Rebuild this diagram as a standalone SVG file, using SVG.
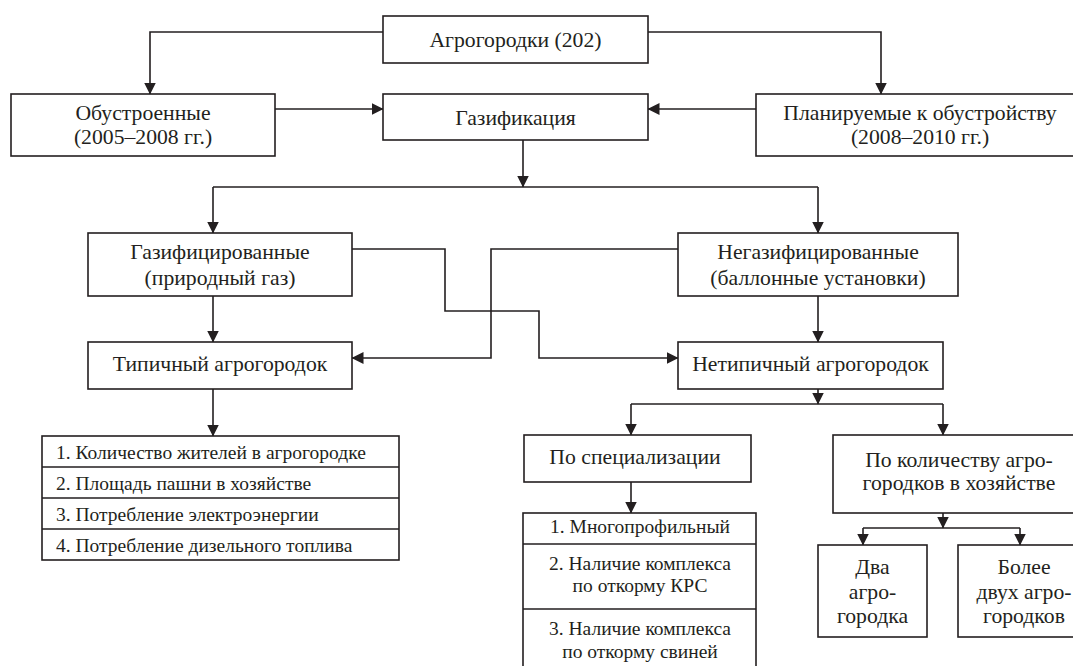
<svg xmlns="http://www.w3.org/2000/svg" width="1073" height="666" viewBox="0 0 1073 666">
<style>
.b{fill:#fff;stroke:#231f20;stroke-width:1.6}
.c{fill:none;stroke:#231f20;stroke-width:1.6}
text{font-family:"Liberation Serif","Times New Roman",serif;fill:#231f20;font-size:21.7px;text-anchor:middle}
.l{font-size:19.5px}
.s{text-anchor:start}
</style>
<defs>
<marker id="a" markerWidth="12" markerHeight="13" refX="11.5" refY="6" orient="auto" markerUnits="userSpaceOnUse" viewBox="0 0 12 12">
<path d="M0,0 L12,6 L0,12 Z" fill="#231f20"/>
</marker>
</defs>
<rect width="1073" height="666" fill="#fff"/>
<g id="connectors">
<path class="c" d="M383,32 H150 V94" marker-end="url(#a)"/>
<path class="c" d="M648,32 H881 V94" marker-end="url(#a)"/>
<path class="c" d="M275,109 H383" marker-end="url(#a)"/>
<path class="c" d="M756,109 H648" marker-end="url(#a)"/>
<path class="c" d="M523,140 V187" marker-end="url(#a)"/>
<path class="c" d="M213,187 H818"/>
<path class="c" d="M213,187 V233" marker-end="url(#a)"/>
<path class="c" d="M818,187 V233" marker-end="url(#a)"/>
<path class="c" d="M213,296 V342" marker-end="url(#a)"/>
<path class="c" d="M818,296 V342" marker-end="url(#a)"/>
<path class="c" d="M352,249 H445 V311 H539 V358 H678" marker-end="url(#a)"/>
<path class="c" d="M678,249 H491 V358 H352" marker-end="url(#a)"/>
<path class="c" d="M213,389 V436" marker-end="url(#a)"/>
<path class="c" d="M818,389 V404" marker-end="url(#a)"/>
<path class="c" d="M631,404 H943"/>
<path class="c" d="M631,404 V435" marker-end="url(#a)"/>
<path class="c" d="M943,404 V435" marker-end="url(#a)"/>
<path class="c" d="M631,482 V513" marker-end="url(#a)"/>
<path class="c" d="M943,513 V528" marker-end="url(#a)"/>
<path class="c" d="M863,528 H1020"/>
<path class="c" d="M863,528 V545" marker-end="url(#a)"/>
<path class="c" d="M1020,528 V545" marker-end="url(#a)"/>
</g>
<g id="agro">
<rect class="b" x="383" y="16" width="265" height="47"/>
<text x="515.5" y="47">Агрогородки (202)</text>
</g>
<g id="obustr">
<rect class="b" x="11" y="94" width="264" height="62"/>
<text x="143" y="120">Обустроенные</text>
<text x="143" y="144">(2005–2008 гг.)</text>
</g>
<g id="gaz">
<rect class="b" x="383" y="94" width="265" height="46"/>
<text x="515.5" y="125">Газификация</text>
</g>
<g id="plan">
<rect class="b" x="756" y="94" width="330" height="62"/>
<text x="920" y="120">Планируемые к обустройству</text>
<text x="920" y="144">(2008–2010 гг.)</text>
</g>
<g id="gazif">
<rect class="b" x="88" y="233" width="264" height="63"/>
<text x="220" y="259">Газифицированные</text>
<text x="220" y="285">(природный газ)</text>
</g>
<g id="negaz">
<rect class="b" x="678" y="233" width="280" height="63"/>
<text x="818" y="259">Негазифицированные</text>
<text x="818" y="285">(баллонные установки)</text>
</g>
<g id="tip">
<rect class="b" x="88" y="342" width="264" height="47"/>
<text x="220" y="371">Типичный агрогородок</text>
</g>
<g id="netip">
<rect class="b" x="678" y="342" width="265" height="47"/>
<text x="810.5" y="371">Нетипичный агрогородок</text>
</g>
<g id="list1">
<rect class="b" x="42" y="436" width="357" height="124"/>
<path class="c" d="M42,467 H399 M42,498 H399 M42,529 H399"/>
<text class="l s" x="56" y="459">1. Количество жителей в агрогородке</text>
<text class="l s" x="56" y="490">2. Площадь пашни в хозяйстве</text>
<text class="l s" x="56" y="521">3. Потребление электроэнергии</text>
<text class="l s" x="56" y="552">4. Потребление дизельного топлива</text>
</g>
<g id="spec">
<rect class="b" x="524" y="435" width="227" height="47"/>
<text x="635" y="464">По специализации</text>
</g>
<g id="list2">
<rect class="b" x="523" y="513" width="233" height="170"/>
<path class="c" d="M523,544 H756 M523,609 H756"/>
<text class="l" x="640" y="533">1. Многопрофильный</text>
<text class="l" x="640" y="570">2. Наличие комплекса</text>
<text class="l" x="640" y="592">по откорму КРС</text>
<text class="l" x="640" y="635">3. Наличие комплекса</text>
<text class="l" x="640" y="658">по откорму свиней</text>
</g>
<g id="kol">
<rect class="b" x="833" y="435" width="252" height="78"/>
<text x="959" y="467">По количеству агро-</text>
<text x="959" y="490">городков в хозяйстве</text>
</g>
<g id="dva">
<rect class="b" x="818" y="545" width="109" height="92"/>
<text x="872.5" y="574">Два</text>
<text x="872.5" y="599">агро-</text>
<text x="872.5" y="623">городка</text>
</g>
<g id="bolee">
<rect class="b" x="958" y="545" width="132" height="92"/>
<text x="1024" y="574">Более</text>
<text x="1024" y="599">двух агро-</text>
<text x="1024" y="623">городков</text>
</g>
</svg>
